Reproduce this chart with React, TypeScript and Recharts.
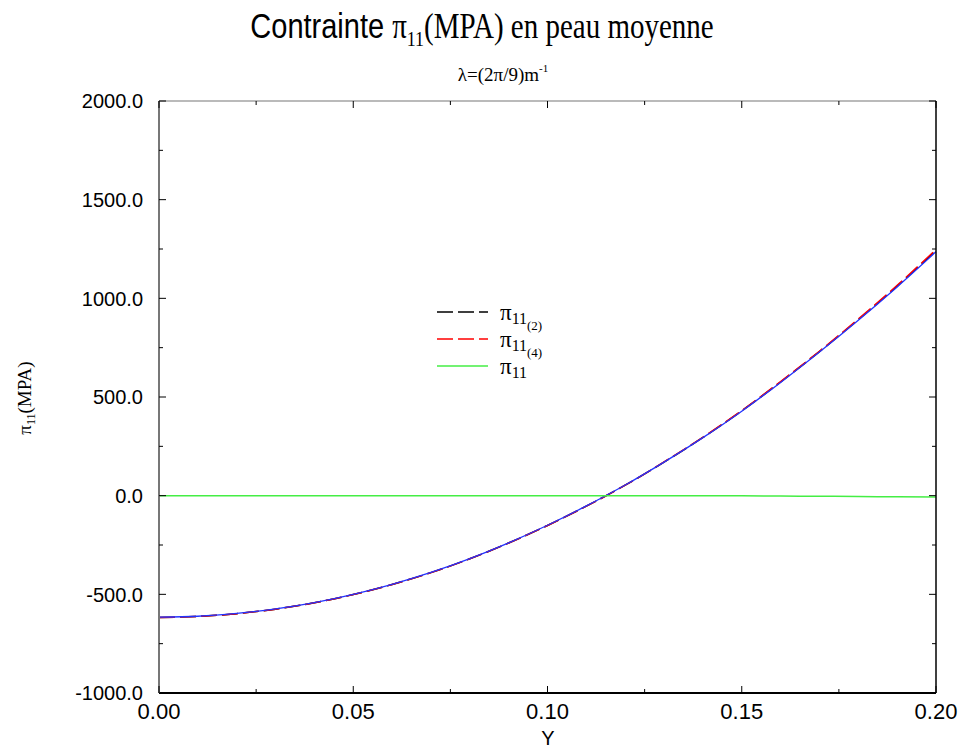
import React from 'react'
import { LineChart, Line, XAxis, YAxis, Legend } from 'recharts'

// abscissa Y (m) and stress values (MPa)
const yPos = [0, 0.01, 0.02, 0.03, 0.04, 0.05, 0.06, 0.07, 0.08, 0.09, 0.1, 0.11, 0.12, 0.13, 0.14, 0.15, 0.16, 0.17, 0.18, 0.19, 0.2]
const pi2 = [-617, -612, -598, -575, -543, -501, -450, -390, -320, -240, -151, -53, 53, 170, 295, 430, 576, 730, 892, 1062, 1242]
const pi4 = [-617, -612, -598, -575, -543, -501, -450, -390, -320, -240, -151, -53, 53, 171, 296, 431, 578, 732, 895, 1066, 1247]
const piRef = [-615, -611, -597, -574, -542, -500, -449, -389, -319, -239, -150, -52, 54, 170, 294, 428, 574, 728, 889, 1058, 1236]
const piFlat = [0, 0, 0, 0, 0, 0, 0, 0, 0, 0, 0, 0, 0, 0, -1, -1, -2, -3, -4, -6, -7]

const xTicks = [0, 0.025, 0.05, 0.075, 0.1, 0.125, 0.15, 0.175, 0.2]
const yTicks = [-1000, -750, -500, -250, 0, 250, 500, 750, 1000, 1250, 1500, 1750, 2000]

const legendItems = [
  { sub: '(2)', color: '#000000', dash: '16 5' },
  { sub: '(4)', color: '#ff0000', dash: '16 5' },
  { sub: '', color: '#44ee44', dash: undefined },
]

const data = yPos.map((y, i) => ({
  y,
  pi2: pi2[i],
  pi4: pi4[i],
  piRef: piRef[i],
  piFlat: piFlat[i],
}))

const sans = 'Liberation Sans, Arial, sans-serif'
const serif = 'Liberation Serif, Times New Roman, serif'

const isMajorX = (v: number) => Math.round(v * 1000) % 50 === 0
const isMajorY = (v: number) => Math.round(v) % 500 === 0

const LeftTick = (props: any) => {
  const { x, y, payload } = props
  const major = isMajorY(payload.value)
  return (
    <g>
      <line x1={x} y1={y} x2={x + (major ? 7 : 4)} y2={y} stroke="#000" strokeWidth={1} />
      {major && (
        <text x={x - 16} y={y} dy="0.36em" textAnchor="end" fontSize={20} fontFamily={sans} fill="#000">
          {payload.value.toFixed(1)}
        </text>
      )}
    </g>
  )
}

const RightTick = (props: any) => {
  const { x, y, payload } = props
  const major = isMajorY(payload.value)
  return <line x1={x} y1={y} x2={x - (major ? 7 : 4)} y2={y} stroke="#000" strokeWidth={1} />
}

const BottomTick = (props: any) => {
  const { x, y, payload } = props
  const major = isMajorX(payload.value)
  return (
    <g>
      <line x1={x} y1={y} x2={x} y2={y - (major ? 7 : 4)} stroke="#000" strokeWidth={1} />
      {major && (
        <text x={x} y={y + 26} textAnchor="middle" fontSize={22} fontFamily={sans} fill="#000">
          {payload.value.toFixed(2)}
        </text>
      )}
    </g>
  )
}

const TopTick = (props: any) => {
  const { x, y, payload } = props
  const major = isMajorX(payload.value)
  return <line x1={x} y1={y} x2={x} y2={y + (major ? 7 : 4)} stroke="#000" strokeWidth={1} />
}

const LegendBox = () => (
  <svg width={160} height={100}>
    {legendItems.map((it, i) => {
      const cy = 16 + 27 * i
      return (
        <g key={i}>
          <line x1={7} y1={cy} x2={58} y2={cy} stroke={it.color} strokeWidth={1.3} strokeDasharray={it.dash} />
          <text x={70} y={cy + 8} fontFamily={serif} fill="#000">
            <tspan fontSize={23}>π</tspan>
            <tspan fontSize={16} dy={4}>11</tspan>
            {it.sub && <tspan fontSize={13} dy={6}>{it.sub}</tspan>}
          </text>
        </g>
      )
    })}
  </svg>
)

export default function App() {
  return (
    <div style={{ position: 'absolute', left: 0, top: 0, width: 959, height: 748, background: '#fff' }}>
      <LineChart width={959} height={748} data={data} margin={{ top: 100, right: 22, bottom: 0, left: 79 }}>
        <XAxis
          dataKey="y"
          type="number"
          domain={[0, 0.2]}
          ticks={xTicks}
          interval={0}
          height={55}
          tickSize={0}
          tickMargin={0}
          tick={(p: any) => <BottomTick {...p} />}
          tickLine={false}
          axisLine={{ stroke: '#000', strokeWidth: 2 }}
        />
        <XAxis
          xAxisId="top"
          orientation="top"
          dataKey="y"
          type="number"
          domain={[0, 0.2]}
          ticks={xTicks}
          interval={0}
          height={1}
          tickSize={0}
          tickMargin={0}
          tick={(p: any) => <TopTick {...p} />}
          tickLine={false}
          axisLine={{ stroke: '#777', strokeWidth: 1.2 }}
        />
        <YAxis
          type="number"
          domain={[-1000, 2000]}
          ticks={yTicks}
          interval={0}
          width={80}
          tickSize={0}
          tickMargin={0}
          tick={(p: any) => <LeftTick {...p} />}
          tickLine={false}
          axisLine={{ stroke: '#777', strokeWidth: 2 }}
        />
        <YAxis
          yAxisId="right"
          orientation="right"
          type="number"
          domain={[-1000, 2000]}
          ticks={yTicks}
          interval={0}
          width={1}
          tickSize={0}
          tickMargin={0}
          tick={(p: any) => <RightTick {...p} />}
          tickLine={false}
          axisLine={{ stroke: '#000', strokeWidth: 1.5 }}
        />
        <Legend
          layout="vertical"
          align="center"
          verticalAlign="middle"
          wrapperStyle={{ left: 430, top: 296, width: 160, height: 100 }}
          content={() => <LegendBox />}
        />
        <Line type="monotone" dataKey="pi2" name="pi2" stroke="#000000" strokeWidth={1.5} strokeDasharray="16 5" dot={false} isAnimationActive={false} />
        <Line type="monotone" dataKey="pi4" name="pi4" stroke="#ff0000" strokeWidth={1.5} strokeDasharray="16 5" dot={false} isAnimationActive={false} />
        <Line type="monotone" dataKey="piRef" name="piRef" stroke="#2233ff" strokeWidth={1.3} dot={false} legendType="none" isAnimationActive={false} />
        <Line
          type="monotone"
          dataKey="piFlat"
          name="pi"
          xAxisId="top"
          yAxisId="right"
          stroke="#44ee44"
          strokeWidth={1.5}
          dot={false}
          isAnimationActive={false}
        />
      </LineChart>
      <svg
        width={959}
        height={748}
        style={{ position: 'absolute', left: 0, top: 0, pointerEvents: 'none' }}
      >
        <g transform="translate(482,38) scale(1,1.2)">
          <text x={0} y={0} textAnchor="middle" fontSize={29} fill="#000">
            <tspan fontFamily={sans}>Contrainte </tspan>
            <tspan fontFamily={serif}>π</tspan>
            <tspan fontFamily={serif} fontSize={18} dy={7}>11</tspan>
            <tspan fontFamily={serif} dy={-7}>(MPA) en peau moyenne</tspan>
          </text>
        </g>
        <text x={503} y={81} textAnchor="middle" fontSize={19} fontFamily={serif} fill="#000">
          λ=(2π/9)m<tspan fontSize={11} dy={-9}>-1</tspan>
        </text>
        <text
          x={0}
          y={0}
          transform="translate(31,398) rotate(-90)"
          textAnchor="middle"
          fontSize={19}
          fontFamily={serif}
          fill="#000"
        >
          π<tspan fontSize={12} dy={4}>11</tspan>
          <tspan dy={-4}>(MPA)</tspan>
        </text>
        <text x={548} y={745} textAnchor="middle" fontSize={20} fontFamily={sans} fill="#000">
          Y
        </text>
      </svg>
    </div>
  )
}
